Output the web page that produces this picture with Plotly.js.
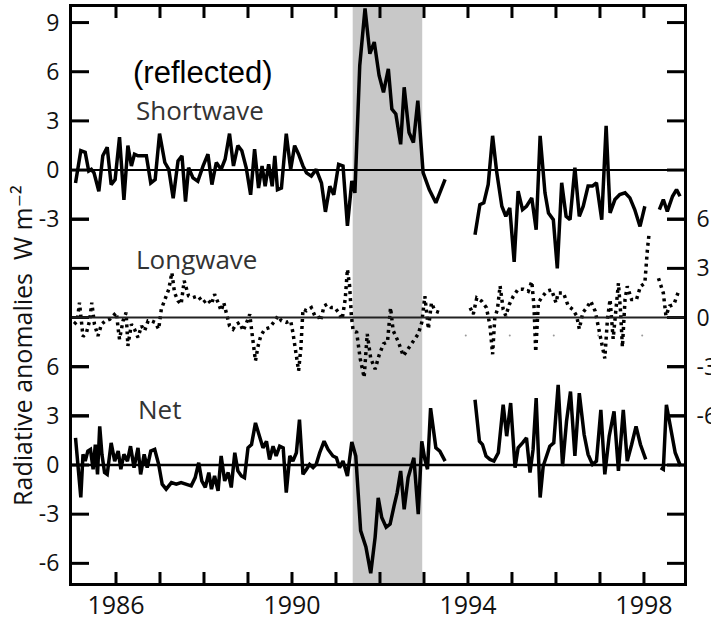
<!DOCTYPE html>
<html>
<head>
<meta charset="utf-8">
<script src="https://cdn.plot.ly/plotly-3.0.1.min.js"></script>
<style>
  html, body { margin: 0; padding: 0; background: #fff; }
  #chart { width: 711px; height: 618px; }
</style>
</head>
<body>
<div id="chart"></div>
<script>
// Radiative flux anomalies (W m^-2), 1985-1999.
// null entries break the line where the record has gaps.

const swYears = [1985.08,1985.20,1985.30,1985.38,1985.44,1985.50,1985.61,1985.70,1985.80,1985.89,1985.98,
  1986.08,1986.18,1986.27,1986.35,1986.42,1986.50,1986.69,1986.79,1986.89,1986.99,
  1987.11,1987.20,1987.30,1987.41,1987.50,1987.58,1987.65,1987.75,1987.86,1987.98,
  1988.09,1988.18,1988.28,1988.39,1988.48,1988.58,1988.67,1988.77,1988.86,1988.96,
  1989.06,1989.15,1989.24,1989.32,1989.39,1989.47,1989.55,1989.61,1989.67,1989.76,1989.87,1989.97,
  1990.06,1990.15,1990.25,1990.33,1990.44,1990.55,1990.67,1990.76,1990.86,1990.95,
  1991.06,1991.16,1991.26,1991.36,1991.43,1991.54,1991.66,1991.77,1991.87,1991.98,
  1992.08,1992.19,1992.27,1992.36,1992.47,1992.55,1992.66,1992.76,1992.86,1992.98,
  1993.12,1993.27,1993.48,1993.80,
  1994.16,1994.27,1994.36,1994.46,1994.56,1994.65,1994.77,1994.86,1994.95,
  1995.05,1995.14,1995.24,1995.33,1995.45,1995.55,1995.64,1995.75,1995.83,1995.94,
  1996.03,1996.13,1996.23,1996.32,1996.43,1996.53,1996.62,1996.73,1996.83,1996.92,
  1997.04,1997.14,1997.23,1997.34,1997.45,1997.57,1997.68,1997.79,1997.91,1998.02,1998.20,
  1998.35,1998.44,1998.53,1998.65,1998.74,1998.82];
const swValues = [-0.79,1.18,1.08,-0.06,0.04,-0.17,-1.30,0.87,1.39,-0.89,-0.58,
  2.01,-1.82,1.49,0.25,0.97,0.87,0.87,-0.79,-0.58,2.22,
  0.46,0.04,-1.72,0.56,0.87,-1.93,0.14,-0.48,-0.68,0.25,
  0.97,-0.89,0.46,0.04,0.66,2.22,0.25,1.49,1.18,0.14,
  -1.51,1.28,-1.10,0.25,-0.99,0.35,-0.99,0.87,-1.20,-1.10,2.22,0.04,
  1.49,0.97,0.25,-0.17,-0.37,0.04,-0.79,-2.55,-0.99,-1.51,
  0.35,0.25,-3.40,-0.67,-1.39,6.38,9.86,7.10,7.81,5.77,
  4.74,6.18,3.72,3.42,1.57,5.05,2.29,1.68,4.23,-0.16,
  -1.19,-2.00,-0.57,null,
  -3.95,-2.11,-2.00,-0.88,2.09,-0.06,-2.21,-2.82,-2.31,
  -5.60,-1.29,-2.41,-2.21,-1.70,-3.64,2.09,-1.39,-2.62,-3.03,
  -6.00,-0.78,-2.82,-3.03,0.14,-2.82,-2.21,-0.98,-0.98,-0.78,
  -3.03,2.70,-2.62,-1.80,-1.49,-1.39,-1.70,-2.41,-3.44,-2.21,null,
  -2.41,-1.80,-2.52,-1.60,-1.19,-1.60];

const lwYears = [1985.05,1985.12,1985.17,1985.25,1985.33,1985.40,1985.45,1985.51,1985.59,1985.67,1985.76,1985.86,1985.93,
  1986.01,1986.05,1986.08,1986.16,1986.23,1986.27,1986.35,1986.42,1986.50,1986.58,1986.65,1986.73,1986.80,1986.89,1986.97,
  1987.03,1987.12,1987.20,1987.27,1987.33,1987.41,1987.48,1987.55,1987.60,1987.65,1987.75,1987.86,1987.98,
  1988.08,1988.17,1988.24,1988.32,1988.39,1988.45,1988.51,1988.58,1988.66,1988.73,1988.81,1988.89,
  1989.00,1989.04,1989.08,1989.11,1989.17,1989.23,1989.29,1989.38,1989.49,1989.61,1989.68,1989.76,1989.87,1989.97,
  1990.02,1990.10,1990.15,1990.20,1990.25,1990.33,1990.44,1990.52,1990.59,1990.65,1990.73,1990.80,1990.89,1990.97,
  1991.06,1991.14,1991.21,1991.26,1991.31,1991.35,1991.39,1991.47,1991.55,1991.64,1991.71,1991.79,1991.89,1991.98,
  1992.08,1992.17,1992.24,1992.30,1992.42,1992.53,1992.64,1992.76,1992.87,1992.95,
  1993.02,1993.10,1993.17,1993.25,1993.36,1993.70,
  1994.05,1994.12,1994.20,1994.31,1994.42,1994.50,1994.56,1994.61,1994.67,1994.73,1994.80,1994.86,1994.94,
  1995.03,1995.14,1995.26,1995.37,1995.45,1995.50,1995.54,1995.60,1995.67,1995.79,1995.90,
  1996.00,1996.05,1996.17,1996.28,1996.38,1996.47,1996.53,1996.61,1996.70,1996.79,1996.89,1996.99,
  1997.06,1997.11,1997.17,1997.23,1997.30,1997.36,1997.42,1997.47,1997.51,1997.57,1997.62,1997.72,1997.83,1997.92,
  1998.02,1998.08,1998.12,1998.22,
  1998.33,1998.44,1998.50,1998.58,1998.68,1998.80];
const lwValues = [-0.41,-0.20,0.91,-1.16,-0.91,-0.20,0.91,-0.41,-1.12,-0.41,-0.20,-0.10,0.10,
  0.30,-0.71,-1.32,-0.20,0.30,-1.73,-0.41,-0.71,-1.22,-0.51,-0.81,-0.20,-0.20,-0.30,-0.71,
  0.51,1.12,1.73,2.74,1.52,1.02,0.81,2.24,1.73,1.32,1.22,1.32,0.91,
  1.12,0.81,1.42,0.91,0.41,0.91,0.30,-0.51,-0.71,-0.41,-0.30,-0.81,
  -0.10,0.20,-0.71,-1.32,-2.64,-1.73,-1.12,-0.71,-0.61,-0.20,0.10,-0.20,-0.30,-0.20,
  -0.91,-2.34,-3.25,-1.93,0.51,0.41,0.61,0.10,0.10,-0.20,0.71,0.81,0.61,0.61,
  0.30,-0.10,1.12,2.95,1.93,0.10,-0.81,-0.90,-2.50,-3.66,-1.00,-2.50,-3.15,-2.30,
  -1.60,-1.50,0.60,-0.80,-1.50,-2.34,-1.90,-1.50,-1.00,-0.30,
  1.30,-0.70,0.90,0.40,0.30,null,
  0.60,0.20,1.20,1.00,0.60,-0.50,-2.24,0.00,0.50,1.93,0.50,0.10,0.80,
  1.30,1.73,1.73,1.60,2.20,0.70,-2.10,0.90,1.20,1.60,1.70,
  0.90,1.50,1.50,0.70,0.50,0.10,-0.70,0.30,0.60,1.00,0.40,-1.00,
  -1.70,-2.50,-0.10,1.10,-1.30,0.60,2.10,0.30,-1.80,1.10,1.90,1.10,1.10,1.90,
  2.10,4.20,5.20,null,
  2.40,1.50,0.10,0.70,0.80,1.70];

const netYears = [1985.08,1985.20,1985.25,1985.30,1985.36,1985.42,1985.48,1985.53,1985.58,1985.63,1985.68,1985.74,1985.80,1985.89,1985.97,
  1986.05,1986.11,1986.18,1986.26,1986.33,1986.41,1986.50,1986.56,1986.64,1986.71,1986.79,1986.88,1986.97,
  1987.05,1987.14,1987.26,1987.37,1987.48,1987.60,1987.71,1987.80,1987.88,1987.95,
  1988.03,1988.11,1988.17,1988.24,1988.32,1988.39,1988.47,1988.55,1988.62,1988.70,1988.77,1988.85,1988.92,
  1989.00,1989.08,1989.17,1989.26,1989.34,1989.42,1989.49,1989.57,1989.64,1989.72,1989.80,1989.87,1989.95,
  1990.02,1990.10,1990.17,1990.25,1990.33,1990.40,1990.48,1990.55,1990.63,1990.73,1990.82,1990.93,
  1991.01,1991.08,1991.16,1991.26,1991.36,1991.45,1991.56,1991.68,1991.79,1991.89,1991.96,
  1992.04,1992.14,1992.23,1992.32,1992.39,1992.47,1992.55,1992.64,1992.77,1992.87,1992.95,
  1993.02,1993.08,1993.15,1993.27,1993.36,1993.48,1993.80,
  1994.16,1994.26,1994.33,1994.41,1994.50,1994.59,1994.69,1994.80,1994.88,1994.97,
  1995.07,1995.14,1995.24,1995.33,1995.41,1995.48,1995.55,1995.64,1995.71,1995.79,1995.86,1995.95,
  1996.05,1996.15,1996.24,1996.33,1996.43,1996.53,1996.64,1996.73,1996.83,1996.92,
  1997.02,1997.11,1997.21,1997.32,1997.42,1997.53,1997.62,1997.72,1997.82,1997.92,
  1998.04,1998.20,
  1998.38,1998.44,1998.51,1998.61,1998.71,1998.83];
const netValues = [1.66,-1.98,0.65,0.24,0.85,0.95,-0.26,1.25,-0.57,2.36,0.65,-0.46,-0.57,1.35,0.24,
  0.85,-0.26,0.65,0.24,1.15,-0.16,1.05,-0.57,0.65,-0.16,0.85,0.95,0.04,
  -1.17,-1.47,-1.07,-1.17,-1.07,-1.17,-1.27,-0.77,0.14,-0.97,
  -1.37,-0.46,-1.47,-0.67,-1.58,0.55,-0.97,-0.46,-1.37,0.75,-0.36,-0.67,-0.77,
  1.05,1.25,2.57,1.76,1.05,1.45,0.34,1.15,0.55,1.15,1.05,-1.68,0.55,
  0.24,0.75,2.77,-0.57,-0.26,0.04,-0.16,0.04,0.75,1.45,0.95,0.55,
  0.44,-0.16,0.24,-0.67,1.40,0.55,-4.00,-5.00,-6.60,-4.40,-2.00,
  -3.20,-3.80,-3.60,-2.50,-1.70,-0.36,-2.70,-0.77,0.44,-3.00,1.45,
  0.34,-0.26,3.47,1.05,0.85,0.24,null,
  3.98,1.45,1.25,0.55,0.34,0.24,0.75,3.68,1.76,3.78,
  -0.16,1.05,1.35,1.66,-0.46,0.95,4.08,-1.98,-0.06,0.65,1.15,1.35,
  4.89,-0.06,2.67,4.48,0.55,4.38,1.86,0.65,0.04,0.24,
  3.37,-0.57,1.76,3.27,-0.36,3.37,0.24,1.25,2.36,1.25,
  0.34,null,
  -0.16,-0.26,3.68,2.06,0.75,-0.06];

// faint dots just below the longwave zero line
const dotYears = [1993.95,1994.95,1995.95,1996.96,1997.96];
const dotValues = [-1.1,-1.1,-1.1,-1.1,-1.1];

// Pinatubo period shading
const eruptionStart = 1991.38;
const eruptionEnd = 1992.96;

// tick positions and labels
const xTickVals = [1986,1987,1988,1989,1990,1991,1992,1993,1994,1995,1996,1997,1998];
const xTickText = ['1986','','','','1990','','','','1994','','','','1998'];
const swTicks = [9, 6, 3, 0, -3];
const swTickText = ['9', '6', '3', '0', '-3'];
const lwTicks = [6, 3, 0, -3, -6];
const lwTickText = ['6', '3', '0', '-3', '-6'];
const netTicks = [6, 3, 0, -3, -6];
const netTickText = ['6', '3', '0', '-3', '-6'];

// the shortwave axis is the master; longwave and net are stacked
// below it by offsetting their own axis ranges
const xRange = [1985, 1998.91];
const swRange = [-25.2, 9.95];
const lwOffset = 9;   // longwave zero sits at shortwave -9
const netOffset = 18; // net zero sits at shortwave -18
const lwRange = [swRange[0] + lwOffset, swRange[1] + lwOffset];
const netRange = [swRange[0] + netOffset, swRange[1] + netOffset];

const margin = { l: 72, r: 27, t: 7, b: 35 };
const plotW = 711 - margin.l - margin.r;
const plotH = 618 - margin.t - margin.b;
const pxPerYear = plotW / (xRange[1] - xRange[0]);
const pxPerUnit = plotH / (swRange[1] - swRange[0]);

const tickFont = { family: 'Open Sans, sans-serif', size: 23, color: '#111' };
const labelFont = { family: 'Open Sans, sans-serif', size: 26, color: '#333' };

// inward tick marks, drawn as short line segments in axis units
function xTickMarks(lenPx) {
  const xs = [], ys = [], d = lenPx / pxPerUnit;
  xTickVals.forEach(function (v) {
    xs.push(v, v, null, v, v, null);
    ys.push(swRange[0], swRange[0] + d, null, swRange[1], swRange[1] - d, null);
  });
  return { x: xs, y: ys, yaxis: 'y', mode: 'lines', cliponaxis: false,
    line: { color: '#000', width: 3 }, hoverinfo: 'skip' };
}
function yTickMarks(vals, axisId, lenPx) {
  const xs = [], ys = [], d = lenPx / pxPerYear;
  vals.forEach(function (v) {
    xs.push(xRange[0], xRange[0] + d, null, xRange[1], xRange[1] - d, null);
    ys.push(v, v, null, v, v, null);
  });
  return { x: xs, y: ys, yaxis: axisId, mode: 'lines', cliponaxis: false,
    line: { color: '#000', width: 3 }, hoverinfo: 'skip' };
}

const traces = [
  { x: swYears, y: swValues, yaxis: 'y', mode: 'lines', connectgaps: false,
    line: { color: '#000', width: 3.5 }, hoverinfo: 'skip' },
  { x: lwYears, y: lwValues, yaxis: 'y2', mode: 'lines', connectgaps: false,
    line: { color: '#000', width: 3.5, dash: '3px,4px' }, hoverinfo: 'skip' },
  { x: netYears, y: netValues, yaxis: 'y3', mode: 'lines', connectgaps: false,
    line: { color: '#000', width: 3.5 }, hoverinfo: 'skip' },
  { x: dotYears, y: dotValues, yaxis: 'y2', mode: 'markers',
    marker: { color: '#999', size: 2 }, hoverinfo: 'skip' },
  xTickMarks(11),
  yTickMarks(swTicks, 'y', 17),
  yTickMarks(lwTicks, 'y2', 17),
  yTickMarks(netTicks, 'y3', 17)
];

const commonY = {
  showgrid: false, zeroline: false, showline: true, linecolor: '#000', linewidth: 3,
  ticks: '', mirror: true, tickfont: tickFont, ticklabelstandoff: 5, fixedrange: true
};

const layout = {
  width: 711, height: 618,
  margin: margin,
  paper_bgcolor: '#fff', plot_bgcolor: '#fff',
  showlegend: false,
  xaxis: {
    range: xRange, showgrid: false, zeroline: false,
    showline: true, linecolor: '#000', linewidth: 3, mirror: true, ticks: '',
    tickvals: xTickVals, ticktext: xTickText, ticklabelstandoff: -2,
    tickfont: Object.assign({}, tickFont, { size: 25 }), fixedrange: true
  },
  yaxis: Object.assign({}, commonY, {
    range: swRange, side: 'left', tickvals: swTicks, ticktext: swTickText
  }),
  yaxis2: Object.assign({}, commonY, {
    range: lwRange, side: 'right', overlaying: 'y', tickvals: lwTicks, ticktext: lwTickText
  }),
  yaxis3: Object.assign({}, commonY, {
    range: netRange, side: 'left', overlaying: 'y', tickvals: netTicks, ticktext: netTickText
  }),
  shapes: [
    { type: 'rect', xref: 'x', yref: 'paper', x0: eruptionStart, x1: eruptionEnd, y0: 0, y1: 1,
      fillcolor: '#c8c8c8', line: { width: 0 }, layer: 'below' },
    { type: 'line', xref: 'paper', yref: 'y', x0: 0, x1: 1, y0: 0, y1: 0,
      line: { color: '#000', width: 2 } },
    { type: 'line', xref: 'paper', yref: 'y2', x0: 0, x1: 1, y0: 0, y1: 0,
      line: { color: '#222', width: 2 } },
    { type: 'line', xref: 'paper', yref: 'y3', x0: 0, x1: 1, y0: 0, y1: 0,
      line: { color: '#000', width: 2.5 } }
  ],
  annotations: [
    { text: '(reflected)', xref: 'paper', yref: 'paper', x: 0.097, y: 0.887,
      xanchor: 'left', yanchor: 'middle', showarrow: false,
      font: { family: 'Liberation Sans, Arial, sans-serif', size: 31, color: '#000' } },
    { text: 'Shortwave', xref: 'paper', yref: 'paper', x: 0.102, y: 0.821,
      xanchor: 'left', yanchor: 'middle', showarrow: false, font: labelFont },
    { text: 'Longwave', xref: 'paper', yref: 'paper', x: 0.102, y: 0.5625,
      xanchor: 'left', yanchor: 'middle', showarrow: false, font: labelFont },
    { text: 'Net', xref: 'paper', yref: 'paper', x: 0.104, y: 0.302,
      xanchor: 'left', yanchor: 'middle', showarrow: false, font: labelFont },
    { text: 'Radiative anomalies  W m\u207B\u00B2', xref: 'paper', yref: 'paper',
      x: -0.082, y: 0.413, xanchor: 'center', yanchor: 'middle', textangle: -90,
      showarrow: false, font: { family: 'Open Sans, DejaVu Sans, sans-serif', size: 25, color: '#111' } }
  ]
};

Plotly.newPlot('chart', traces, layout, { staticPlot: true, displayModeBar: false });
</script>
</body>
</html>
